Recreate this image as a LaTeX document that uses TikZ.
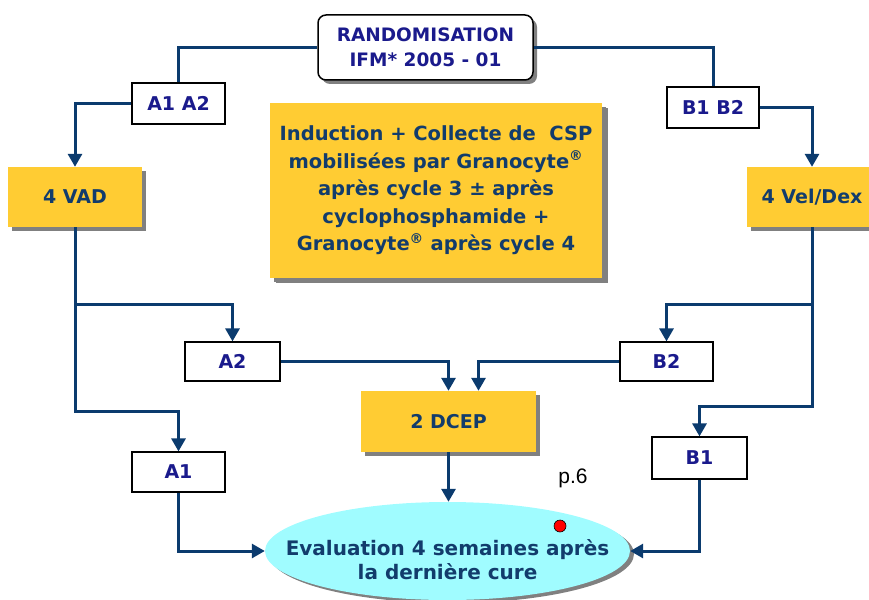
\documentclass[tikz,border=0pt]{standalone}
\usepackage{fontspec}
\setmainfont{DejaVu Sans}
\newfontfamily\arialfont{Liberation Sans}
\usetikzlibrary{arrows.meta,shadows,shapes.geometric}
\definecolor{linecol}{HTML}{0B3B6E}
\definecolor{yel}{HTML}{FFCC33}
\definecolor{cyanfill}{HTML}{A0FCFF}
\definecolor{navytxt}{HTML}{1A1A8C}
\definecolor{darktxt}{HTML}{123C6C}
\definecolor{shadowgray}{HTML}{808080}
\begin{document}
\begin{tikzpicture}[x=1pt,y=-1pt,
  font=\fontsize{19}{25}\selectfont\bfseries,
  whitebox/.style={draw=black, line width=1.2pt, fill=white, text=navytxt, inner sep=0pt, align=center},
  yellowbox/.style={fill=yel, text=darktxt, inner sep=0pt, align=center,
    general shadow={fill=shadowgray, shadow xshift=4pt, shadow yshift=-4pt}},
  conn/.style={draw=linecol, line width=3pt},
  arr/.style={conn, -{Triangle[width=14pt,length=13pt]}},
]
\useasboundingbox (0,0) rectangle (869,599);
\clip (0,0) rectangle (869,599);

% nodes
\node[whitebox, rounded corners=8pt, line width=1.5pt, text=navytxt,
      minimum width=215pt, minimum height=65pt,
      general shadow={fill=shadowgray, shadow xshift=4pt, shadow yshift=-4pt},
      font=\fontsize{18.5}{25}\selectfont\bfseries]
  (rand) at (425.5,47.5) {RANDOMISATION\\IFM* 2005 - 01};

\node[whitebox, minimum width=93pt, minimum height=41pt] (a12) at (178.5,103.5) {A1 A2};
\node[whitebox, minimum width=92pt, minimum height=41pt] (b12) at (713,107.5) {B1 B2};

\node[yellowbox, minimum width=134pt, minimum height=60pt] (vad) at (75,197) {4 VAD};
\node[yellowbox, minimum width=130pt, minimum height=60pt] (vel) at (812,197) {4 Vel/Dex};

\node[yellowbox, minimum width=332pt, minimum height=175pt,
      general shadow={fill=shadowgray, shadow xshift=6pt, shadow yshift=-5pt},
      font=\fontsize{19.5}{27.5}\selectfont\bfseries]
  (induc) at (436,190.5)
  {Induction + Collecte de\ \ CSP\\
   mobilisées par Granocyte\textsuperscript{®}\\
   après cycle 3 ± après\\
   cyclophosphamide +\\
   Granocyte\textsuperscript{®} après cycle 4};

\node[whitebox, minimum width=95pt, minimum height=39pt] (a2) at (232.5,361.5) {A2};
\node[whitebox, minimum width=93pt, minimum height=39pt] (b2) at (666.5,361.5) {B2};

\node[yellowbox, minimum width=175pt, minimum height=61pt] (dcep) at (448.5,421.5) {2 DCEP};

\node[whitebox, minimum width=93pt, minimum height=40pt] (a1) at (178.5,472) {A1};
\node[whitebox, minimum width=95pt, minimum height=42pt] (b1) at (699.5,458) {B1};

\node[ellipse, fill=cyanfill, inner sep=0pt,
      minimum width=365pt, minimum height=98pt,
      general shadow={fill=shadowgray, shadow xshift=4pt, shadow yshift=-3pt}]
  (eval) at (447.5,551) {};
\node[text=darktxt, align=center, inner sep=0pt,
      font=\fontsize{20}{24}\selectfont\bfseries]
  (evaltext) at ([yshift=-9pt]eval.center) {Evaluation 4 semaines après\\la dernière cure};

\node[circle, fill=red, draw=black, line width=0.6pt, inner sep=0pt, minimum size=12pt] (dot) at (560,526) {};
\node[font=\arialfont\mdseries\fontsize{21}{21}\selectfont, text=black, inner sep=0pt] (p6) at (573,478) {p.6};

% junction coordinates
\coordinate (jA) at (75,304);
\coordinate (jA1) at (75,411);
\coordinate (jB) at (812,304);
\coordinate (jB1) at (812,406);

% connectors
\draw[conn] (rand.west) -| (a12.north);
\draw[conn] (rand.east) -| (b12.north);
\draw[arr] (a12.west) -| (vad.north);
\draw[arr] (b12.east) -| (vel.north);

\draw[arr] (vad.south) -- (jA1) -| (a1.north);
\draw[arr] (jA) -| (a2.north);

\draw[arr] (vel.south) -- (jB1) -| (b1.north);
\draw[arr] (jB) -| (b2.north);

\draw[arr] (a2.east) -| (dcep.north);
\draw[arr] (b2.west) -| ([xshift=30pt]dcep.north);
\draw[arr] (dcep.south) -- (dcep.south |- eval.north);
\draw[arr] (a1.south) |- (eval.west);
\draw[arr] (b1.south) |- (eval.east);
\end{tikzpicture}
\end{document}
